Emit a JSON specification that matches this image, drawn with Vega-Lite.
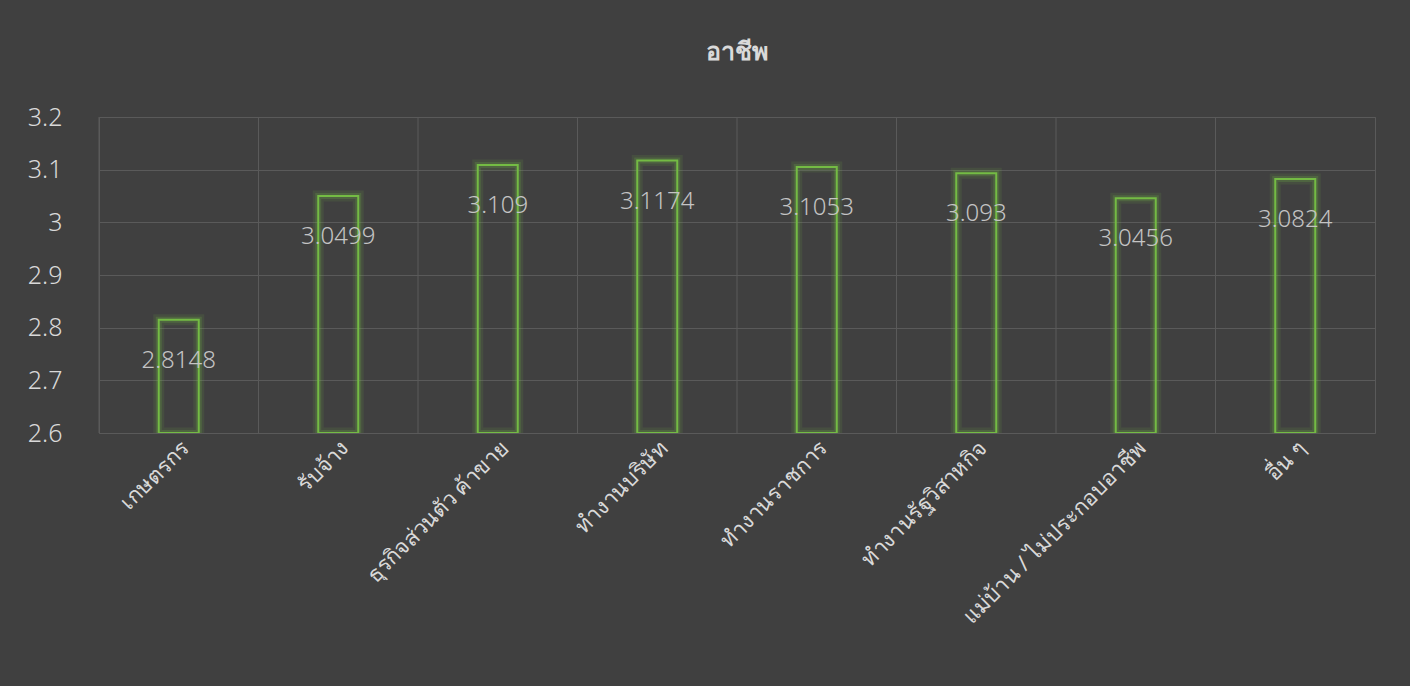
{
  "$schema": "https://vega.github.io/schema/vega-lite/v6.json",
  "width": 1276,
  "height": 316,
  "autosize": {"type": "none"},
  "padding": {"left": 99, "top": 117, "right": 35, "bottom": 253},
  "background": "#404040",
  "title": {
    "text": "อาชีพ",
    "fontSize": 25,
    "fontWeight": "bold",
    "color": "#d9d9d9",
    "font": "Noto Sans, DejaVu Sans",
    "anchor": "middle",
    "offset": 40
  },
  "config": {
    "view": {"stroke": "#5a5a5a", "strokeWidth": 1},
    "font": "Noto Sans"
  },
  "data": {
    "values": [
      {"cat": "เกษตรกร", "v": 2.8148},
      {"cat": "รับจ้าง", "v": 3.0499},
      {"cat": "ธุรกิจส่วนตัว ค้าขาย", "v": 3.109},
      {"cat": "ทำงานบริษัท", "v": 3.1174},
      {"cat": "ทำงานราชการ", "v": 3.1053},
      {"cat": "ทำงานรัฐวิสาหกิจ", "v": 3.093},
      {"cat": "แม่บ้าน / ไม่ประกอบอาชีพ", "v": 3.0456},
      {"cat": "อื่น ๆ", "v": 3.0824}
    ]
  },
  "encoding": {
    "x": {
      "field": "cat",
      "type": "nominal",
      "sort": null,
      "scale": {"paddingInner": 0, "paddingOuter": 0},
      "axis": {
        "title": null,
        "labelAngle": -45,
        "labelAlign": "right",
        "labelBaseline": "top",
        "labelFontSize": 22,
        "labelColor": "#d9d9d9",
        "labelPadding": 4,
        "ticks": false,
        "domain": false,
        "grid": false,
        "labelLimit": 400
      }
    }
  },
  "layer": [
    {
      "mark": {"type": "rule", "color": "#5a5a5a", "strokeWidth": 1},
      "encoding": {
        "x": {"field": "cat", "type": "nominal", "sort": null, "bandPosition": 0}
      }
    },
    {
      "mark": {"type": "bar", "width": 40, "fill": "transparent", "stroke": "#72b843", "strokeWidth": 11, "strokeOpacity": 0.12, "clip": true},
      "encoding": {
        "y": {
          "field": "v",
          "type": "quantitative",
          "scale": {"domain": [2.6, 3.2], "zero": false, "nice": false},
          "axis": {
            "title": null,
            "values": [2.6, 2.7, 2.8, 2.9, 3.0, 3.1, 3.2],
            "labelFontSize": 25,
            "labelFontWeight": 300,
            "labelColor": "#d9d9d9",
            "labelPadding": 37,
            "ticks": false,
            "domain": false,
            "gridColor": "#5a5a5a",
            "labelExpr": "datum.value == 3 ? '3' : format(datum.value, '.1f')"
          }
        },
        "y2": {"datum": 2.6}
      }
    },
    {
      "mark": {"type": "bar", "width": 40, "fill": "transparent", "stroke": "#72b843", "strokeWidth": 6, "strokeOpacity": 0.22, "clip": true},
      "encoding": {
        "y": {"field": "v", "type": "quantitative"},
        "y2": {"datum": 2.6}
      }
    },
    {
      "mark": {"type": "bar", "width": 40, "fill": "transparent", "stroke": "#74bb44", "strokeWidth": 2, "clip": true},
      "encoding": {
        "y": {"field": "v", "type": "quantitative"},
        "y2": {"datum": 2.6}
      }
    },
    {
      "mark": {"type": "text", "fontSize": 24, "fontWeight": 300, "color": "#c4c4c4", "baseline": "middle", "dy": 41, "font": "Noto Sans"},
      "encoding": {
        "y": {"field": "v", "type": "quantitative"},
        "text": {"field": "v", "type": "quantitative"}
      }
    }
  ]
}
